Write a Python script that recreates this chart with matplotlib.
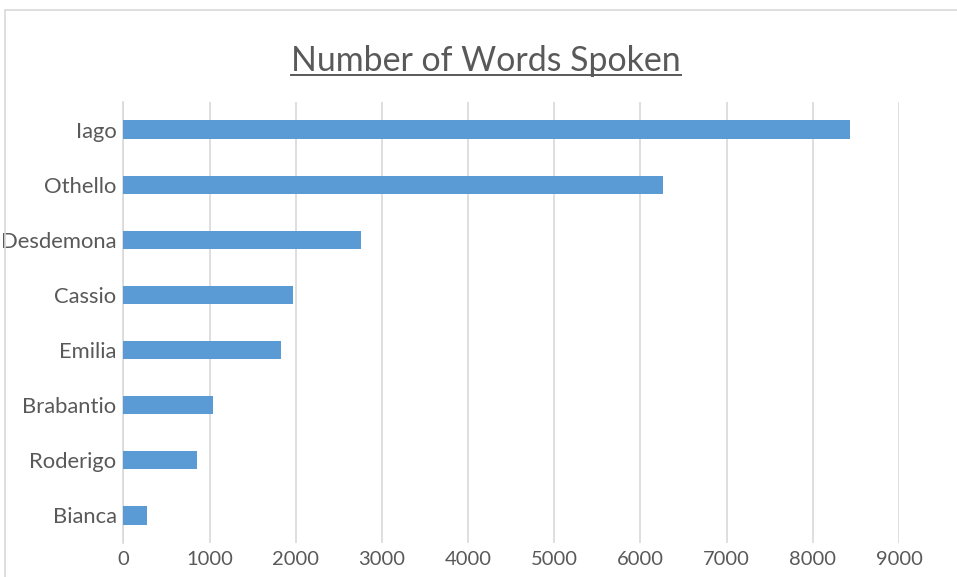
import matplotlib
matplotlib.use("Agg")
import matplotlib.pyplot as plt
from matplotlib.lines import Line2D
from matplotlib.patches import Rectangle

# words spoken per character
characters = ["Iago", "Othello", "Desdemona", "Cassio", "Emilia", "Brabantio", "Roderigo", "Bianca"]
words = [8430, 6265, 2755, 1965, 1830, 1040, 855, 275]
x_ticks = [0, 1000, 2000, 3000, 4000, 5000, 6000, 7000, 8000, 9000]

text_color = "#595959"
bar_color = "#5B9BD5"
grid_color = "#D9D9D9"

plt.rcParams["font.family"] = ["Lato", "DejaVu Sans"]

fig = plt.figure(figsize=(9.57, 5.77), dpi=100)
ax = fig.add_axes([0.129, 0.0589, 0.8104, 0.7643])

ypos = list(range(len(characters)))[::-1]
ax.barh(ypos, words, height=0.33, color=bar_color, zorder=3)

ax.set_xlim(0, 9000)
ax.set_ylim(-0.5, len(characters) - 0.5)
ax.set_xticks(x_ticks)
ax.set_xticklabels([str(t) for t in x_ticks])
ax.set_yticks(ypos)
ax.set_yticklabels(characters)
ax.tick_params(axis="both", length=0, colors=text_color)
ax.tick_params(axis="x", pad=6, labelsize=14.5)
ax.tick_params(axis="y", pad=5, labelsize=15.8)

ax.grid(axis="x", color=grid_color, linewidth=1.2, zorder=0)
for side in ["top", "right", "bottom"]:
    ax.spines[side].set_visible(False)
ax.spines["left"].set_color(grid_color)
ax.spines["left"].set_linewidth(1.2)

# title with underline
title = fig.text(0.5075, 0.894, "Number of Words Spoken", ha="center", va="center",
                 fontsize=24.4, color=text_color)
fig.canvas.draw()
bb = title.get_window_extent().transformed(fig.transFigure.inverted())
fig.add_artist(Line2D([bb.x0, bb.x1], [bb.y0 + 0.004, bb.y0 + 0.004],
                      transform=fig.transFigure, color=text_color, linewidth=1.4))

# chart area border
fig.add_artist(Rectangle((5 / 957, -0.1), 1.2, 1.1 - 10 / 577, transform=fig.transFigure,
                         fill=False, edgecolor="#D9D9D9", linewidth=1.2))

fig.savefig("out.png", dpi=100)
